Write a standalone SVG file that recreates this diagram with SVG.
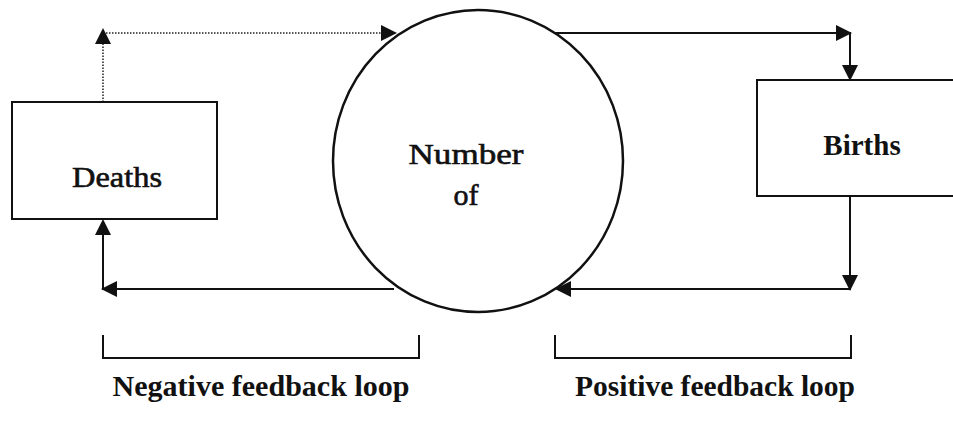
<svg xmlns="http://www.w3.org/2000/svg" width="953" height="429" viewBox="0 0 953 429">
<style>
.bg{fill:#fff}
.box{fill:#fff;stroke:#111;stroke-width:2}
.circ{fill:#fff;stroke:#111;stroke-width:2.5}
.ln{fill:none;stroke:#111;stroke-width:2}
.dot{fill:none;stroke:#222;stroke-width:1.5;stroke-dasharray:1.5 1.5}
.ah{fill:#111}
.t{font-family:"Liberation Serif","DejaVu Serif",serif;font-weight:bold;fill:#111;text-anchor:middle}
.tm{font-family:"Liberation Serif","DejaVu Serif",serif;font-weight:normal;fill:#111;stroke:#111;stroke-width:0.6;text-anchor:middle}
</style>
<rect class="bg" x="0" y="0" width="953" height="429"/>
<g id="connectors">
  <polyline class="dot" points="103,102 103,33 385,33"/>
  <polygon class="ah" points="103,28 95,44 111,44"/>
  <polygon class="ah" points="397,33 381,25 381,41"/>
  <polyline class="ln" points="555,33 850,33 850,68"/>
  <polygon class="ah" points="852,33 836,25 836,41"/>
  <polygon class="ah" points="850,81 842,65 858,65"/>
  <polyline class="ln" points="850,196 850,289 570,289"/>
  <polygon class="ah" points="850,291 842,275 858,275"/>
  <polygon class="ah" points="555,289 571,281 571,297"/>
  <polyline class="ln" points="394,289 103,289 103,232"/>
  <polygon class="ah" points="101,289 117,281 117,297"/>
  <polygon class="ah" points="103,219 95,235 111,235"/>
</g>
<g id="deaths">
  <rect class="box" x="12" y="102" width="205" height="117"/>
  <text class="tm" x="117" y="187" font-size="30" textLength="90" lengthAdjust="spacingAndGlyphs">Deaths</text>
</g>
<g id="number">
  <ellipse class="circ" cx="478" cy="161" rx="145" ry="151"/>
  <text class="tm" x="466" y="164" font-size="30" textLength="115" lengthAdjust="spacingAndGlyphs">Number</text>
  <text class="tm" x="466" y="205" font-size="30">of</text>
</g>
<g id="births">
  <rect class="box" x="757" y="80" width="210" height="116"/>
  <text class="t" x="862" y="155" font-size="29">Births</text>
</g>
<g id="brackets">
  <polyline class="ln" points="103,335 103,358 419,358 419,335"/>
  <polyline class="ln" points="555,335 555,358 851,358 851,335"/>
</g>
<g id="labels">
  <text class="t" x="261" y="396" font-size="29" textLength="297" lengthAdjust="spacingAndGlyphs">Negative feedback loop</text>
  <text class="t" x="715" y="396" font-size="29" textLength="280" lengthAdjust="spacingAndGlyphs">Positive feedback loop</text>
</g>
</svg>
